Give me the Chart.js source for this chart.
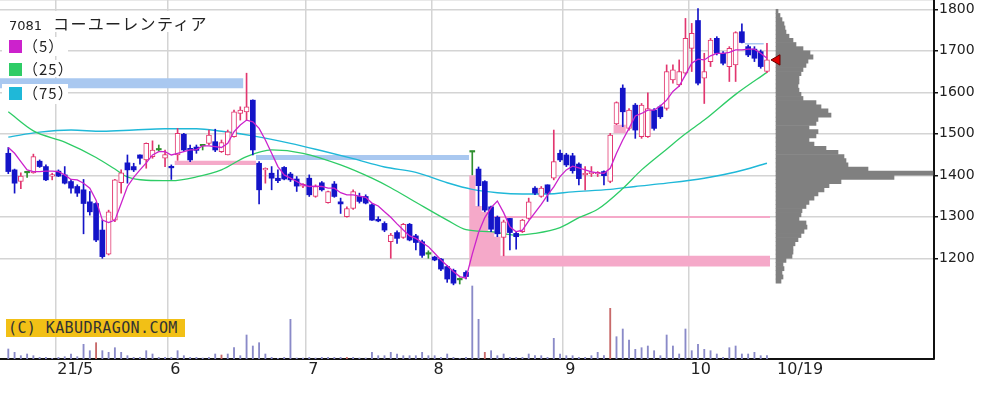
<!DOCTYPE html>
<html><head><meta charset="utf-8">
<script src="https://cdn.jsdelivr.net/npm/chart.js@4.4.0/dist/chart.umd.min.js"></script>
<style>
html,body{margin:0;padding:0;background:#fff;}
#wrap{position:relative;width:993px;height:394px;overflow:hidden;background:#fff;}
#c{position:absolute;left:0;top:0;}
#title{position:absolute;left:3px;top:11px;height:21px;padding:0 4px 0 6px;background:#fff;white-space:nowrap;color:#222;line-height:21px;}
#code{font:13px 'DejaVu Sans';}
#name{font:16px 'Noto Sans CJK JP';margin-left:11px;letter-spacing:1.3px;}
.leg{position:absolute;left:2px;width:66px;background:#fff;}
.leg i{position:absolute;left:7px;width:13px;height:13px;}
.leg span{position:absolute;left:21px;font:15px 'Noto Sans CJK JP';color:#222;white-space:nowrap;line-height:16px;letter-spacing:1px;}
#copy{position:absolute;left:6px;top:319px;width:179px;height:18px;background:#f2c016;color:#333;font:15px 'DejaVu Sans Mono';line-height:18px;letter-spacing:0.4px;padding-left:2px;box-sizing:border-box;white-space:nowrap;}
</style></head><body>
<div id="wrap">
<canvas id="c" width="993" height="394"></canvas>
<div id="title"><span id="code"></span><span id="name"></span></div>
<div id="legendBox"></div>
<div id="copy"></div>
</div>
<script>
// ---------- data ----------
const TICKER = '7081';
const NAME = 'コーユーレンティア';
const COPYRIGHT = '(C) KABUDRAGON.COM';
const MA_LABELS = ['（5）', '（25）', '（75）'];

const X_TICK_POS = [7.5, 25.5, 47.5, 67.5, 88.5, 108.5, 122.3];
const X_TICK_LABELS = ['21/5', '6', '7', '8', '9', '10', '10/19'];
const Y_TICKS = [1200, 1300, 1400, 1500, 1600, 1700, 1800];
const Y_TICK_LABELS = ['1200', '1300', '1400', '1500', '1600', '1700', '1800'];

const OPEN = [1453,1413,1385,1406,1406,1434,1421,1398,1410,1401,
1385,1373,1365,1336,1332,1268,1210,1292,1382,1430,
1421,1449,1437,1445,1461,1441,1421,1449,1499,1465,
1468,1471,1477,1481,1457,1449,1493,1549,1553,1581,
1429,1413,1405,1393,1419,1403,1391,1374,1393,1349,
1382,1334,1379,1336,1300,1320,1349,1349,1329,1294,
1284,1240,1262,1250,1282,1254,1240,1210,1203,1198,
1180,1171,1148,1166,1456,1415,1385,1324,1299,1250,
1296,1260,1264,1296,1369,1349,1377,1393,1453,1449,
1447,1427,1401,1404,1403,1409,1385,1524,1610,1513,
1569,1493,1493,1557,1565,1561,1630,1618,1646,1706,
1773,1634,1674,1730,1694,1662,1666,1746,1710,1704,
1698,1650];
const HIGH = [1467,1415,1406,1408,1451,1437,1425,1405,1413,1421,
1390,1377,1390,1361,1334,1292,1316,1390,1413,1449,
1429,1449,1478,1483,1473,1461,1425,1513,1501,1473,
1473,1473,1509,1511,1485,1509,1557,1565,1646,1582,
1433,1418,1421,1413,1421,1407,1397,1380,1401,1377,
1385,1362,1385,1345,1324,1365,1357,1353,1331,1300,
1288,1260,1266,1284,1284,1258,1244,1218,1205,1200,
1183,1174,1153,1170,1458,1420,1387,1326,1302,1292,
1296,1264,1294,1345,1373,1373,1377,1509,1461,1453,
1453,1430,1421,1421,1409,1411,1501,1577,1618,1561,
1573,1573,1599,1561,1569,1666,1666,1678,1778,1766,
1802,1694,1730,1734,1698,1710,1746,1765,1714,1710,
1702,1718];
const LOW = [1404,1357,1368,1395,1405,1419,1387,1389,1397,1379,
1357,1349,1259,1304,1240,1200,1208,1288,1357,1381,
1409,1427,1417,1441,1459,1421,1390,1436,1457,1433,
1453,1461,1473,1457,1455,1449,1492,1533,1533,1449,
1331,1381,1365,1382,1389,1385,1361,1370,1349,1347,
1362,1333,1347,1308,1299,1318,1333,1331,1291,1288,
1264,1200,1236,1248,1242,1220,1202,1200,1194,1170,
1142,1136,1138,1150,1401,1326,1312,1264,1252,1206,
1220,1222,1262,1294,1353,1347,1337,1389,1433,1421,
1405,1377,1365,1397,1397,1377,1382,1522,1517,1509,
1489,1489,1491,1509,1537,1557,1622,1614,1642,1650,
1618,1573,1662,1690,1666,1626,1626,1719,1686,1674,
1658,1647];
const CLOSE = [1409,1381,1398,1406,1445,1421,1389,1401,1398,1381,
1369,1357,1332,1312,1244,1204,1312,1389,1406,1413,
1413,1441,1477,1461,1461,1450,1418,1501,1461,1437,
1460,1471,1497,1461,1479,1505,1553,1557,1565,1461,
1365,1417,1393,1387,1391,1389,1374,1378,1353,1373,
1365,1361,1349,1331,1320,1361,1337,1333,1292,1290,
1268,1256,1248,1282,1244,1238,1207,1210,1196,1174,
1150,1140,1148,1156,1456,1375,1316,1270,1259,1288,
1262,1252,1292,1336,1357,1369,1357,1433,1437,1425,
1411,1392,1405,1408,1407,1399,1497,1575,1553,1557,
1509,1569,1561,1513,1541,1650,1654,1650,1730,1742,
1622,1650,1726,1694,1670,1706,1744,1720,1690,1682,
1662,1678];

// moving averages
const MA5 = [1467,1453,1433,1413,1409,1409,1410,1410,1409,1401,
1390,1389,1381,1369,1340,1292,1286,1292,1332,1373,
1395,1413,1430,1449,1457,1457,1449,1453,1457,1461,
1462,1471,1471,1469,1467,1477,1505,1521,1533,1529,
1513,1485,1453,1421,1401,1393,1385,1377,1373,1374,
1373,1369,1369,1358,1353,1353,1350,1347,1333,1326,
1312,1299,1283,1268,1254,1248,1238,1228,1212,1196,
1182,1168,1156,1152,1210,1262,1298,1322,1338,1310,
1276,1264,1268,1290,1310,1330,1352,1372,1397,1413,
1422,1418,1413,1408,1406,1405,1417,1453,1485,1513,
1543,1549,1557,1557,1567,1581,1602,1615,1642,1670,
1680,1678,1688,1694,1694,1696,1702,1702,1704,1704,
1694,1682];
const MA25_DAYS = [0,4,9,14,17,19,22,26,30,34,38,42,47,53,58,61,65,70,73,77,81,84,88,91,94,98,101,105,108,111,116,121];
const MA25_VALS = [1553,1507,1480,1443,1415,1396,1388,1387,1396,1413,1445,1461,1453,1425,1393,1370,1335,1292,1269,1264,1256,1260,1274,1298,1318,1368,1413,1463,1500,1533,1595,1648];
const MA75_DAYS = [0,5,10,15,20,25,30,34,39,45,50,55,60,65,70,74,78,82,86,90,96,100,105,111,116,121];
const MA75_VALS = [1492,1504,1509,1506,1509,1512,1512,1506,1495,1477,1459,1440,1420,1407,1382,1366,1358,1355,1355,1360,1366,1373,1381,1393,1408,1429];

// volume (shares)
const VOLUME = [10000,6700,3300,5000,3300,1700,1700,700,1700,2300,
5000,2300,14700,8300,16300,8300,6700,11300,6700,3300,
1700,1700,8300,5000,1700,1700,1700,8300,3300,1700,
1700,1000,1700,5000,4000,5000,11300,3300,24000,13000,
16300,5000,1700,700,1700,39700,1000,1000,1700,1000,
1700,1700,1700,1700,1700,1700,1000,1000,6700,3300,
3300,6700,5000,3300,3300,3300,6700,3300,3300,1700,
5000,1700,500,1700,73000,39700,6700,8300,3300,5000,
1700,1700,1700,5000,3300,3300,1700,20700,5000,3300,
3300,1700,1700,3300,6700,3300,50700,22300,30000,19000,
9700,11300,13000,8300,3300,24000,13000,5000,30000,8300,
14700,9700,8300,5000,1700,11300,13000,5000,5000,6700,
3300,3300];
const VOL_RED_DAYS = [14, 34, 54, 76, 96];

// volume by price (10-yen bins, centre price / shares)
const PROFILE_PRICE = [1145,1155,1165,1175,1185,1195,1205,1215,1225,1235,
1245,1255,1265,1275,1285,1295,1305,1315,1325,1335,
1345,1355,1365,1375,1385,1395,1405,1415,1425,1435,
1445,1455,1465,1475,1485,1495,1505,1515,1525,1535,
1545,1555,1565,1575,1585,1595,1605,1615,1625,1635,
1645,1655,1665,1675,1685,1695,1705,1715,1725,1735,
1745,1755,1765,1775,1785,1795];
const PROFILE_VOL = [5000,7000,6000,8000,7000,10000,16000,17000,17000,19000,
22000,25000,28000,31000,30000,23000,25000,26000,30000,33000,
38000,42000,48000,53000,65000,118000,157000,92000,72000,70000,
68000,62000,50000,38000,33000,40000,42000,33000,40000,42000,
55000,52000,45000,40000,27000,25000,23000,22000,23000,23000,
25000,27000,30000,32000,37000,34000,27000,20000,17000,13000,
10000,9000,8000,6000,4000,2000];

// price gaps: [fromDay, toDay, low, high]
const GAPS_DOWN = [[-1.4, 37.5, 1610, 1634], [39.5, 73.5, 1437, 1449], [117.5, 120.5, 1715, 1719]];
const GAPS_UP = [[26.5, 39.5, 1425, 1435], [96.5, 98.5, 1501, 1522], [76.5, 121.5, 1297, 1302]];
const GAP_AUG_DAYS = [73.5, 74.5, 75.5, 76.5, 77.5, 78.5, 121.5];
const GAP_AUG_TOP = [1400, 1326, 1312, 1264, 1252, 1206, 1206];
const GAP_AUG_BOTTOM = 1180;

// ---------- style / layout ----------
const COL = {
  up: '#e2366f', upFill: '#ffffff', down: '#1414c8', doji: '#2f8f2f',
  ma5: '#cc22cc', ma25: '#2ecc66', ma75: '#1fb8d8',
  vol: '#8a8ac8', volRed: '#c86a6a', profile: '#808080',
  gapUp: '#f5a9c9', gapDown: '#a9c8f0', grid: '#d4d4d4', axis: '#111'
};
const MA_COLORS = [COL.ma5, COL.ma25, COL.ma75];
const LEG_ROWS = [{top: 37, h: 19}, {top: 60, h: 17}, {top: 83.5, h: 20}];
const X_MIN = -1.324, X_MAX = 147.64;
const Y_MAX = 1822.4, Y_MIN = 957.3;
const VOL_MAX = 359000;
const XP_MIN = -776000, XP_MAX = 158000;

document.getElementById('code').textContent = TICKER;
document.getElementById('name').textContent = NAME;
document.getElementById('copy').textContent = COPYRIGHT;
const lb = document.getElementById('legendBox');
MA_LABELS.forEach((t, k) => {
  const r = LEG_ROWS[k];
  const d = document.createElement('div');
  d.className = 'leg';
  d.style.top = r.top + 'px';
  d.style.height = r.h + 'px';
  const sq = document.createElement('i'); sq.style.background = MA_COLORS[k];
  const cy = 46.5 + k * 23.3 - r.top;
  sq.style.top = (cy - 6.5) + 'px';
  const sp = document.createElement('span'); sp.textContent = t;
  sp.style.top = (cy - 8.5) + 'px';
  d.appendChild(sq); d.appendChild(sp); lb.appendChild(d);
});

const days = CLOSE.map((_, i) => i);
const cColor = i => CLOSE[i] > OPEN[i] ? COL.up : (CLOSE[i] < OPEN[i] ? COL.down : COL.doji);

const datasets = [];
datasets.push({
  type: 'bar', xAxisID: 'x', yAxisID: 'yv', grouped: false, order: 10,
  data: days.map(i => ({x: i, y: VOLUME[i]})),
  backgroundColor: days.map(i => VOL_RED_DAYS.includes(i) ? COL.volRed : COL.vol),
  barThickness: 1.2
});
datasets.push({
  type: 'bar', indexAxis: 'y', xAxisID: 'xp', yAxisID: 'yp', grouped: false, order: 9,
  data: PROFILE_PRICE.map((p, k) => ({y: p, x: PROFILE_VOL[k]})),
  backgroundColor: COL.profile, categoryPercentage: 1, barPercentage: 1, borderWidth: 0
});
GAPS_DOWN.concat(GAPS_UP).forEach((g, k) => {
  datasets.push({
    type: 'line', xAxisID: 'x', yAxisID: 'y', order: 8,
    data: [{x: g[0], y: g[3]}, {x: g[1], y: g[3]}],
    fill: {value: g[2]}, backgroundColor: k < GAPS_DOWN.length ? COL.gapDown : COL.gapUp,
    borderWidth: 0, pointRadius: 0
  });
});
datasets.push({
  type: 'line', xAxisID: 'x', yAxisID: 'y', order: 8, stepped: 'before',
  data: GAP_AUG_DAYS.map((d, k) => ({x: d, y: GAP_AUG_TOP[k]})),
  fill: {value: GAP_AUG_BOTTOM}, backgroundColor: COL.gapUp, borderWidth: 0, pointRadius: 0
});
datasets.push({
  type: 'line', xAxisID: 'x', yAxisID: 'y', order: 6,
  data: MA75_DAYS.map((d, k) => ({x: d, y: MA75_VALS[k]})),
  borderColor: COL.ma75, borderWidth: 1.4, pointRadius: 0, cubicInterpolationMode: 'monotone', fill: false
});
datasets.push({
  type: 'line', xAxisID: 'x', yAxisID: 'y', order: 5,
  data: MA25_DAYS.map((d, k) => ({x: d, y: MA25_VALS[k]})),
  borderColor: COL.ma25, borderWidth: 1.3, pointRadius: 0, cubicInterpolationMode: 'monotone', fill: false
});
datasets.push({
  type: 'bar', xAxisID: 'x', yAxisID: 'y', grouped: false, order: 4,
  data: days.map(i => ({x: i, y: [LOW[i], HIGH[i]]})),
  backgroundColor: days.map(cColor), barThickness: 1, borderWidth: 0
});
datasets.push({
  type: 'bar', xAxisID: 'x', yAxisID: 'y', grouped: false, order: 3,
  data: days.map(i => ({x: i, y: [OPEN[i], CLOSE[i]]})),
  backgroundColor: days.map(i => CLOSE[i] > OPEN[i] ? COL.upFill : cColor(i)),
  borderColor: days.map(cColor),
  borderWidth: days.map(i => CLOSE[i] > OPEN[i] ? 1 : 0),
  borderSkipped: false, barThickness: 5, minBarLength: 1.5
});
datasets.push({
  type: 'line', xAxisID: 'x', yAxisID: 'y', order: 2,
  data: days.map(i => ({x: i, y: MA5[i]})),
  borderColor: COL.ma5, borderWidth: 1.3, pointRadius: 0, tension: 0, fill: false
});
datasets.push({
  type: 'line', xAxisID: 'x', yAxisID: 'y', order: 1, showLine: false,
  data: [{x: CLOSE.length + 0.6, y: CLOSE[CLOSE.length - 1]}],
  pointStyle: 'triangle', pointRotation: -90, pointRadius: 6,
  pointBackgroundColor: '#e00000', pointBorderColor: '#6a0000', pointBorderWidth: 1
});

new Chart(document.getElementById('c'), {
  type: 'bar',
  data: {datasets},
  options: {
    responsive: false, animation: false, devicePixelRatio: 1,
    layout: {padding: 0, autoPadding: false},
    plugins: {legend: {display: false}, tooltip: {enabled: false}},
    scales: {
      x: {
        type: 'linear', position: 'bottom', min: X_MIN, max: X_MAX, offset: false,
        afterBuildTicks: s => { s.ticks = X_TICK_POS.map(v => ({value: v})); },
        afterFit: s => { s.height = 35; s.paddingLeft = 0; s.paddingRight = 0; },
        ticks: {autoSkip: false, maxRotation: 0, minRotation: 0, align: 'start', labelOffset: 2, padding: 1,
          color: '#222', font: {family: 'DejaVu Sans', size: 16},
          callback: (v, i) => X_TICK_LABELS[i]},
        grid: {offset: false, drawTicks: false, lineWidth: 1.5,
          color: c => (c.index < X_TICK_POS.length - 1) ? COL.grid : 'rgba(0,0,0,0)'},
        border: {display: true, color: COL.axis, width: 2}
      },
      y: {
        type: 'linear', position: 'right', min: Y_MIN, max: Y_MAX, offset: false,
        afterBuildTicks: s => { s.ticks = Y_TICKS.concat([Y_MAX]).map(v => ({value: v})); },
        afterFit: s => { s.width = 59; s.paddingTop = 0; s.paddingBottom = 0; },
        ticks: {padding: 1, color: '#222', font: {family: 'DejaVu Sans', size: 14},
          callback: (v, i) => (i < Y_TICK_LABELS.length ? Y_TICK_LABELS[i] : '')},
        grid: {color: COL.grid, lineWidth: 1.5, tickLength: 4, tickWidth: 1.5,
          tickColor: c => (c.index < Y_TICKS.length ? '#111' : 'rgba(0,0,0,0)')},
        border: {display: true, color: COL.axis, width: 2}
      },
      yv: {type: 'linear', display: false, min: 0, max: VOL_MAX, offset: false},
      yp: {type: 'linear', display: false, min: Y_MIN, max: Y_MAX, offset: false},
      xp: {type: 'linear', display: false, min: XP_MIN, max: XP_MAX, offset: false}
    }
  }
});
</script>
</body></html>
